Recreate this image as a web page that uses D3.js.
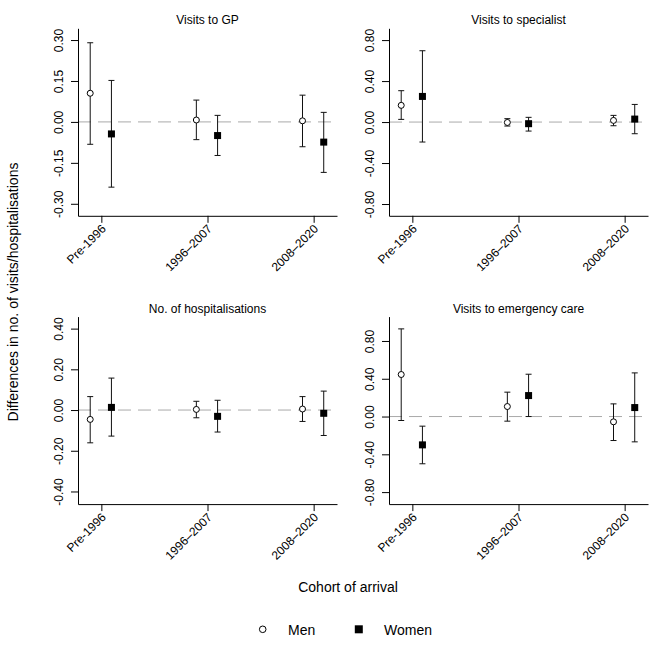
<!DOCTYPE html>
<html>
<head>
<meta charset="utf-8">
<script src="https://cdn.jsdelivr.net/npm/d3@7/dist/d3.min.js"></script>
<style>
  html, body { margin: 0; padding: 0; background: #fff; }
  svg { display: block; font-family: "Liberation Sans", Arial, sans-serif; }
</style>
</head>
<body>
<svg id="chart" width="664" height="664"></svg>
<script>
// ---------------- data ----------------
const categories = ["Pre-1996", "1996\u20132007", "2008\u20132020"];
const panelTitles = ["Visits to GP", "Visits to specialist", "No. of hospitalisations", "Visits to emergency care"];

// Visits to GP
const gpMenEst   = [0.105, 0.007, 0.004];
const gpMenLo    = [-0.082, -0.065, -0.091];
const gpMenHi    = [0.290, 0.080, 0.098];
const gpWomenEst = [-0.044, -0.050, -0.074];
const gpWomenLo  = [-0.239, -0.123, -0.185];
const gpWomenHi  = [0.152, 0.024, 0.035];

// Visits to specialist
const spMenEst   = [0.163, -0.004, 0.016];
const spMenLo    = [0.026, -0.039, -0.036];
const spMenHi    = [0.306, 0.033, 0.065];
const spWomenEst = [0.250, -0.016, 0.029];
const spWomenLo  = [-0.195, -0.088, -0.114];
const spWomenHi  = [0.696, 0.046, 0.172];

// No. of hospitalisations
const hoMenEst   = [-0.046, 0.003, 0.005];
const hoMenLo    = [-0.161, -0.038, -0.056];
const hoMenHi    = [0.066, 0.043, 0.066];
const hoWomenEst = [0.013, -0.031, -0.016];
const hoWomenLo  = [-0.128, -0.108, -0.125];
const hoWomenHi  = [0.157, 0.048, 0.093];

// Visits to emergency care
const emMenEst   = [0.445, 0.106, -0.056];
const emMenLo    = [-0.042, -0.049, -0.254];
const emMenHi    = [0.928, 0.258, 0.134];
const emWomenEst = [-0.300, 0.222, 0.095];
const emWomenLo  = [-0.500, 0.000, -0.268];
const emWomenHi  = [-0.102, 0.448, 0.462];

// y-axis tick labels
const gpTicks = [-0.30, -0.15, 0.00, 0.15, 0.30];
const spTicks = [-0.80, -0.40, 0.00, 0.40, 0.80];
const hoTicks = [-0.40, -0.20, 0.00, 0.20, 0.40];
const emTicks = [-0.80, -0.40, 0.00, 0.40, 0.80];

// y-axis limits
const gpLim = [-0.344, 0.343];
const spLim = [-0.915, 0.915];
const hoLim = [-0.462, 0.459];
const emLim = [-0.927, 1.058];

const seriesNames = ["Men", "Women"];
const yTitle = "Differences in no. of visits/hospitalisations";
const xTitle = "Cohort of arrival";

// ---------------- build panels ----------------
function rows(est, lo, hi) { return est.map((e, i) => ({ i: i + 1, est: e, lo: lo[i], hi: hi[i] })); }

const panels = [
  { title: panelTitles[0], ticks: gpTicks, lim: gpLim, men: rows(gpMenEst, gpMenLo, gpMenHi), women: rows(gpWomenEst, gpWomenLo, gpWomenHi) },
  { title: panelTitles[1], ticks: spTicks, lim: spLim, men: rows(spMenEst, spMenLo, spMenHi), women: rows(spWomenEst, spWomenLo, spWomenHi) },
  { title: panelTitles[2], ticks: hoTicks, lim: hoLim, men: rows(hoMenEst, hoMenLo, hoMenHi), women: rows(hoWomenEst, hoWomenLo, hoWomenHi) },
  { title: panelTitles[3], ticks: emTicks, lim: emLim, men: rows(emMenEst, emMenLo, emMenHi), women: rows(emWomenEst, emWomenLo, emWomenHi) }
];

const svg = d3.select("#chart");
const pw = 259, ph = 187.5;
const lefts = [78, 389, 78, 389];
const tops = [28.3, 28.3, 316.6, 316.6];
const menOff = -0.105, womenOff = 0.095;
const cap = 3;

panels.forEach((p, k) => {
  const g = svg.append("g").attr("transform", `translate(${lefts[k]},${tops[k]})`);
  const x = d3.scaleLinear().domain([0.78, 3.22]).range([0, pw]);
  const y = d3.scaleLinear().domain(p.lim).range([ph, 0]);

  // zero reference line
  g.append("line")
    .attr("x1", 0).attr("x2", pw)
    .attr("y1", y(0)).attr("y2", y(0))
    .attr("stroke", "#aaaaaa").attr("stroke-width", 1)
    .attr("stroke-dasharray", "13,7");

  // y axis
  const ya = g.append("g").call(
    d3.axisLeft(y).tickValues(p.ticks).tickSize(7).tickSizeOuter(0).tickFormat(d => d.toFixed(2))
  );
  ya.select(".domain").attr("stroke", "#000");
  ya.selectAll(".tick line").attr("stroke", "#000");
  ya.selectAll(".tick text")
    .attr("x", 0).attr("dy", null)
    .attr("transform", "translate(-19,0) rotate(-90)")
    .attr("text-anchor", "middle")
    .attr("dominant-baseline", "central")
    .attr("font-size", 12).attr("font-family", "Liberation Sans, Arial, sans-serif")
    .attr("fill", "#000");

  // x axis
  const xa = g.append("g").attr("transform", `translate(0,${ph})`).call(
    d3.axisBottom(x).tickValues([1, 2, 3]).tickSize(7).tickSizeOuter(0).tickFormat(d => categories[d - 1])
  );
  xa.select(".domain").attr("stroke", "#000");
  xa.selectAll(".tick line").attr("stroke", "#000");
  xa.selectAll(".tick text")
    .attr("y", 0).attr("dy", null)
    .attr("transform", "translate(2,11) rotate(-45)")
    .attr("text-anchor", "end")
    .attr("dominant-baseline", "central")
    .attr("font-size", 12).attr("font-family", "Liberation Sans, Arial, sans-serif")
    .attr("fill", "#000");

  // title
  g.append("text")
    .attr("x", pw / 2).attr("y", -4)
    .attr("text-anchor", "middle")
    .attr("font-size", 12).attr("fill", "#000")
    .text(p.title);

  // error bars
  const drawBars = (data, off) => {
    const eb = g.append("g").attr("stroke", "#111").attr("stroke-width", 1).attr("fill", "none");
    eb.selectAll("line.v").data(data).join("line").attr("class", "v")
      .attr("x1", d => x(d.i + off)).attr("x2", d => x(d.i + off))
      .attr("y1", d => y(d.lo)).attr("y2", d => y(d.hi));
    eb.selectAll("line.t").data(data).join("line").attr("class", "t")
      .attr("x1", d => x(d.i + off) - cap).attr("x2", d => x(d.i + off) + cap)
      .attr("y1", d => y(d.hi)).attr("y2", d => y(d.hi));
    eb.selectAll("line.b").data(data).join("line").attr("class", "b")
      .attr("x1", d => x(d.i + off) - cap).attr("x2", d => x(d.i + off) + cap)
      .attr("y1", d => y(d.lo)).attr("y2", d => y(d.lo));
  };
  drawBars(p.men, menOff);
  drawBars(p.women, womenOff);

  // markers
  g.selectAll("circle.men").data(p.men).join("circle").attr("class", "men")
    .attr("cx", d => x(d.i + menOff)).attr("cy", d => y(d.est)).attr("r", 3)
    .attr("fill", "#fff").attr("stroke", "#000").attr("stroke-width", 1);
  g.selectAll("rect.women").data(p.women).join("rect").attr("class", "women")
    .attr("x", d => x(d.i + womenOff) - 3.5).attr("y", d => y(d.est) - 3.5)
    .attr("width", 7).attr("height", 7)
    .attr("fill", "#000");
});

// axis titles
svg.append("text")
  .attr("transform", "translate(13,292) rotate(-90)")
  .attr("text-anchor", "middle").attr("dominant-baseline", "central")
  .attr("font-size", 14).attr("fill", "#000")
  .text(yTitle);

svg.append("text")
  .attr("x", 348).attr("y", 592)
  .attr("text-anchor", "middle")
  .attr("font-size", 14).attr("fill", "#000")
  .text(xTitle);

// legend
const leg = svg.append("g");
leg.append("circle").attr("cx", 262.7).attr("cy", 629.3).attr("r", 3.3)
  .attr("fill", "#fff").attr("stroke", "#000").attr("stroke-width", 1);
leg.append("text").attr("x", 288).attr("y", 634.5).attr("font-size", 14).attr("fill", "#000").text(seriesNames[0]);
leg.append("rect").attr("x", 354.8).attr("y", 625.3).attr("width", 8).attr("height", 8).attr("fill", "#000");
leg.append("text").attr("x", 384).attr("y", 634.5).attr("font-size", 14).attr("fill", "#000").text(seriesNames[1]);
</script>
</body>
</html>
